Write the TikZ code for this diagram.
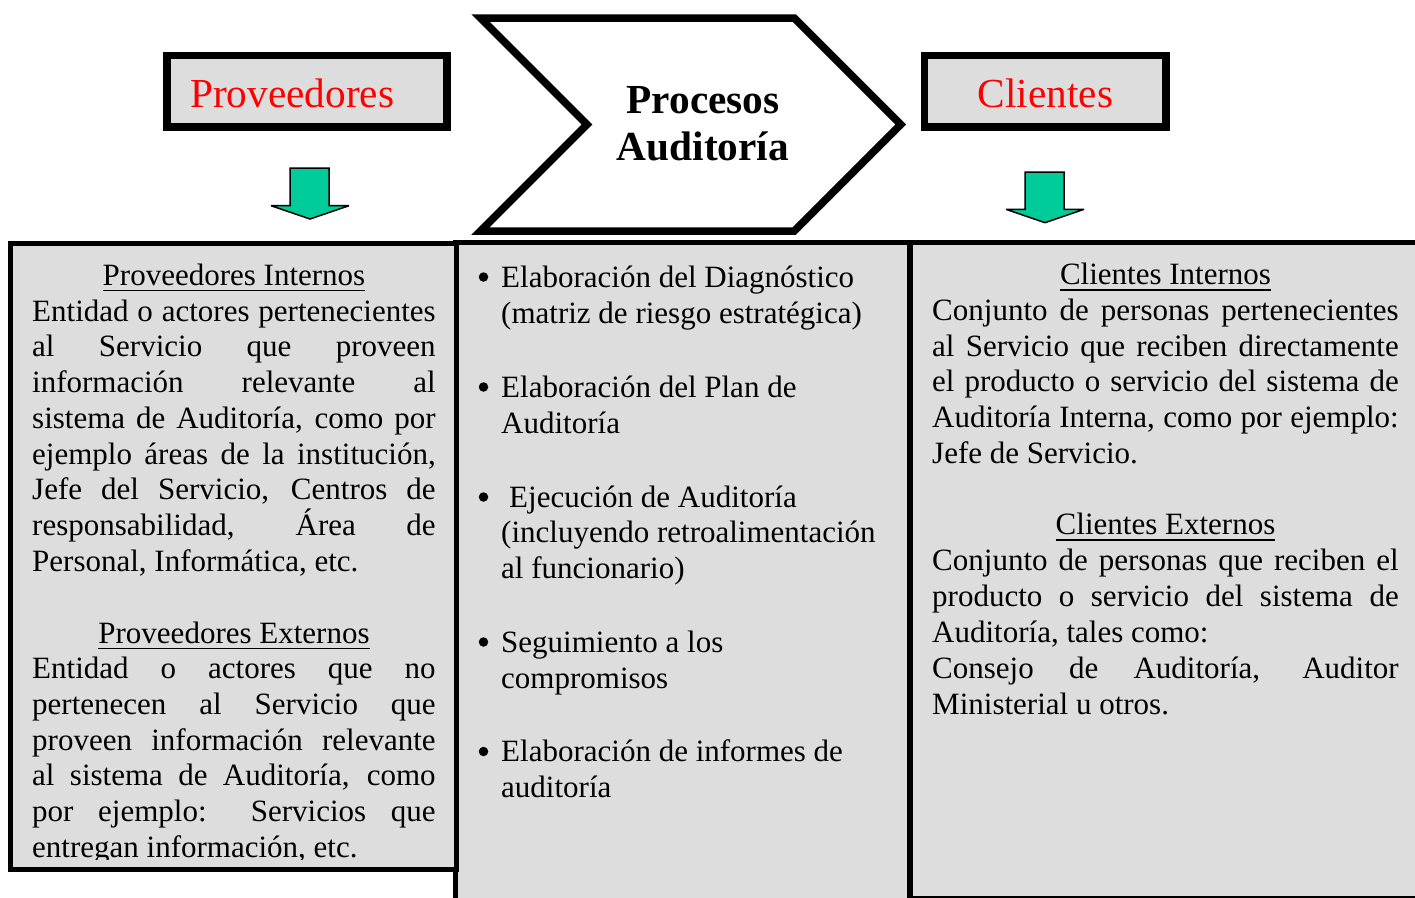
\documentclass[tikz,border=0pt]{standalone}
\usepackage{fontspec}
\setmainfont{Liberation Serif}
\definecolor{panelgray}{HTML}{DDDDDD}
\definecolor{arrowgreen}{HTML}{00CC99}
\newcommand{\bodyfont}{\fontsize{31}{35.7}\selectfont}
\newcommand{\headfont}{\fontsize{41.3}{47}\selectfont}
\newcommand{\ulin}[1]{\setbox0\hbox{#1}\rlap{\rule[-6.3pt]{\wd0}{1.8pt}}\box0}
\newcommand{\jlL}[1]{\makebox[403.5pt][s]{#1}}
\newcommand{\jlR}[1]{\makebox[466.5pt][s]{#1}}
\tikzset{
  body/.style={inner sep=0pt, anchor=base west, font=\bodyfont},
  bodyc/.style={inner sep=0pt, anchor=base, font=\bodyfont},
  bulletdot/.style={circle, fill=black, inner sep=0pt, minimum size=9.5pt},
  panel/.style={fill=panelgray, draw=black, line width=5pt},
  headbox/.style={fill=panelgray, draw=black, line width=7.7pt},
  blockarrow/.style={fill=arrowgreen, draw=black, line width=1.5pt, line join=miter, miter limit=3},
}
\begin{document}
\begin{tikzpicture}[x=1pt,y=-1pt]
\useasboundingbox (0,0) rectangle (1415,897);
\fill[white] (0,0) rectangle (1415,897);

% header boxes
\draw[headbox] (166.7,55.5) rectangle (447,127);
\node[inner sep=0pt, anchor=base west, font=\headfont, text=red] (prov) at (190,107) {Proveedores};
\draw[headbox] (924.5,55.5) rectangle (1166.3,127);
\node[inner sep=0pt, anchor=base, font=\headfont, text=red] (cli) at (1045.4,107) {Clientes};

% chevron
\draw[fill=white, line width=7.5pt, line join=miter, miter limit=20]
  (480.5,18) -- (794.2,18) -- (900.7,124.5) -- (794.2,231) -- (480.5,231) -- (587,124.5) -- cycle;
\node[inner sep=0pt, anchor=base, font=\headfont\bfseries] (proc1) at (703,113) {Procesos};
\node[inner sep=0pt, anchor=base, font=\headfont\bfseries] (proc2) at (703,160) {Auditoría};

% green block arrows
\draw[blockarrow] (290,168) -- (329,168) -- (329,205.7) -- (349,205.7) -- (310,219)
  -- (271,205.7) -- (290,205.7) -- cycle;
\draw[blockarrow] (1025,172) -- (1064,172) -- (1064,209.3) -- (1084,209.3) -- (1045,222.7)
  -- (1006,209.3) -- (1025,209.3) -- cycle;

% panels
\draw[panel] (455,242.5) rectangle (909.5,905);
\draw[panel] (910,242.5) rectangle (1425,898.5);
\draw[panel] (10,243) rectangle (456.5,869);

% left panel text
\begin{scope}
\clip (12.5,245.5) rectangle (454,859.5);
\node[bodyc] (lh1) at (234,285) {\ulin{Proveedores Internos}};
\node[body] (l1) at (32,321) {\jlL{Entidad o actores pertenecientes}};
\node[body] (l2) at (32,356.5) {\jlL{al Servicio que proveen}};
\node[body] (l3) at (32,392) {\jlL{información relevante al}};
\node[body] (l4) at (32,428) {\jlL{sistema de Auditoría, como por}};
\node[body] (l5) at (32,464) {\jlL{ejemplo áreas de la institución,}};
\node[body] (l6) at (32,499.5) {\jlL{Jefe del Servicio, Centros de}};
\node[body] (l7) at (32,535) {\jlL{responsabilidad, Área de}};
\node[body] (l8) at (32,571) {Personal, Informática, etc.};
\node[bodyc] (lh2) at (234,643) {\ulin{Proveedores Externos}};
\node[body] (l9) at (32,678.5) {\jlL{Entidad o actores que no}};
\node[body] (l10) at (32,714) {\jlL{pertenecen al Servicio que}};
\node[body] (l11) at (32,750) {\jlL{proveen información relevante}};
\node[body] (l12) at (32,785.5) {\jlL{al sistema de Auditoría, como}};
\node[body] (l13) at (32,821) {\jlL{por ejemplo: Servicios que}};
\node[body] (l14) at (32,857) {entregan información, etc.};
\end{scope}

% middle panel text
\node[bulletdot] (b1) at (483.5,277) {};
\node[body] (m1) at (501,287) {Elaboración del Diagnóstico};
\node[body] (m2) at (501,323) {(matriz de riesgo estratégica)};
\node[bulletdot] (b2) at (483.5,387) {};
\node[body] (m3) at (501,397) {Elaboración del Plan de};
\node[body] (m4) at (501,433) {Auditoría};
\node[bulletdot] (b3) at (483.5,497) {};
\node[body] (m5) at (509,507) {Ejecución de Auditoría};
\node[body] (m6) at (501,542) {(incluyendo retroalimentación};
\node[body] (m7) at (501,578) {al funcionario)};
\node[bulletdot] (b4) at (483.5,642) {};
\node[body] (m8) at (501,652) {Seguimiento a los};
\node[body] (m9) at (501,688) {compromisos};
\node[bulletdot] (b5) at (483.5,751.5) {};
\node[body] (m10) at (501,761.5) {Elaboración de informes de};
\node[body] (m11) at (501,797) {auditoría};

% right panel text
\node[bodyc] (rh1) at (1165.5,284.5) {\ulin{Clientes Internos}};
\node[body] (r1) at (932,320.5) {\jlR{Conjunto de personas pertenecientes}};
\node[body] (r2) at (932,356) {\jlR{al Servicio que reciben directamente}};
\node[body] (r3) at (932,391.5) {\jlR{el producto o servicio del sistema de}};
\node[body] (r4) at (932,427) {\jlR{Auditoría Interna, como por ejemplo:}};
\node[body] (r5) at (932,463) {Jefe de Servicio.};
\node[bodyc] (rh2) at (1165.5,534.5) {\ulin{Clientes Externos}};
\node[body] (r6) at (932,570.5) {\jlR{Conjunto de personas que reciben el}};
\node[body] (r7) at (932,606) {\jlR{producto o servicio del sistema de}};
\node[body] (r8) at (932,642) {Auditoría, tales como:};
\node[body] (r9) at (932,678) {\jlR{Consejo de Auditoría, Auditor}};
\node[body] (r10) at (932,714) {Ministerial u otros.};
\end{tikzpicture}
\end{document}
